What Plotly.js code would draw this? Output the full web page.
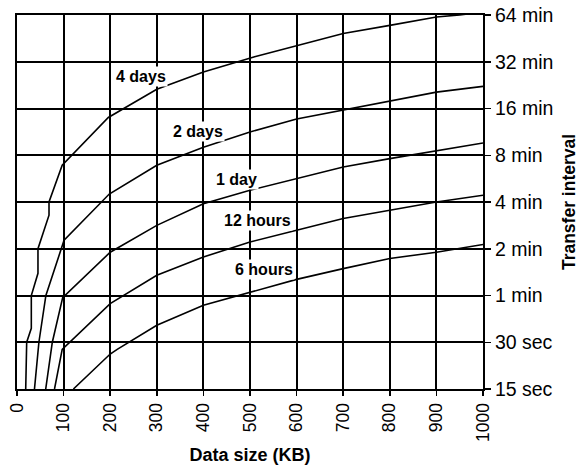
<!DOCTYPE html>
<html>
<head>
<meta charset="utf-8">
<script src="https://cdn.plot.ly/plotly-3.0.1.min.js"></script>
<style>
  html, body { margin: 0; padding: 0; background: #fff; }
  #chart { width: 582px; height: 466px; }
</style>
</head>
<body>
<div id="chart"></div>
<script>
// ---- Data (x: data size in KB, y: transfer interval in minutes) ----
const days4X  = [18.7, 20.8, 30.7, 30.7, 45, 45, 68.7, 68.7, 97, 101, 196, 300, 400, 510, 650, 700, 800, 900, 950, 1000];
const days4Y  = [0.25, 0.5, 0.615, 1.0, 1.39, 2.0, 3.29, 4.0, 6.9, 7.1, 14.0, 21.3, 27.5, 34.5, 44.4, 48.6, 54.9, 62.2, 64, 67];

const days2X  = [37.5, 47, 62, 94, 101, 198, 300, 400, 500, 600, 700, 800, 900, 1000];
const days2Y  = [0.25, 0.5, 1.0, 2.0, 2.27, 4.5, 6.9, 9.0, 11.3, 13.7, 15.7, 17.9, 20.4, 22.2];

const day1X   = [61.6, 75.8, 98, 200, 300, 400, 500, 600, 700, 800, 900, 1000];
const day1Y   = [0.25, 0.5, 0.97, 1.9, 2.83, 3.9, 4.76, 5.66, 6.72, 7.61, 8.52, 9.6];

const hours12X = [80.5, 97, 200, 300, 400, 500, 600, 700, 800, 900, 1000];
const hours12Y = [0.25, 0.45, 0.887, 1.35, 1.77, 2.21, 2.63, 3.13, 3.54, 4.0, 4.42];

const hours6X = [121, 200, 215, 300, 400, 500, 600, 700, 800, 900, 1000];
const hours6Y = [0.25, 0.42, 0.45, 0.643, 0.865, 1.05, 1.27, 1.49, 1.73, 1.9, 2.13];

const seriesNames = ['4 days', '2 days', '1 day', '12 hours', '6 hours'];

const yTickVals  = [0.25, 0.5, 1, 2, 4, 8, 16, 32, 64];
const yTickText  = ['15 sec', '30 sec', '1 min', '2 min', '4 min', '8 min', '16 min', '32 min', '64 min'];
const xTickVals  = [0, 100, 200, 300, 400, 500, 600, 700, 800, 900, 1000];

// ---- Chart ----
const FONT = 'Liberation Sans, Arial, Helvetica, sans-serif';
const xs = [days4X, days2X, day1X, hours12X, hours6X];
const ys = [days4Y, days2Y, day1Y, hours12Y, hours6Y];

const traces = seriesNames.map((name, i) => ({
  type: 'scatter',
  mode: 'lines',
  name: name,
  x: xs[i],
  y: ys[i],
  line: { color: '#000', width: 1.6 },
  hoverinfo: 'skip'
}));

// label anchor points (data units: KB, minutes)
const labelPos = [
  { x: 266, y: 25.8 },
  { x: 388, y: 11.4 },
  { x: 470, y: 5.6 },
  { x: 516, y: 3.05 },
  { x: 531, y: 1.464 }
];

const annotations = seriesNames.map((t, i) => ({
  x: labelPos[i].x,
  y: Math.log10(labelPos[i].y),
  xref: 'x', yref: 'y',
  text: t,
  showarrow: false,
  bgcolor: '#fff',
  borderpad: 1,
  font: { family: FONT, size: 16, color: '#000', weight: 'bold' }
}));

const layout = {
  width: 582,
  height: 466,
  margin: { l: 17, r: 99, t: 15, b: 77 },
  paper_bgcolor: '#fff',
  plot_bgcolor: '#fff',
  showlegend: false,
  xaxis: {
    type: 'linear',
    range: [0, 1000],
    tickvals: xTickVals,
    ticktext: xTickVals.map(String),
    tickangle: -90,
    ticks: 'outside',
    ticklen: 5,
    tickwidth: 1.5,
    tickcolor: '#000',
    showgrid: true,
    gridcolor: '#000',
    gridwidth: 2,
    zeroline: false,
    showline: true,
    mirror: true,
    linecolor: '#000',
    linewidth: 2,
    tickfont: { family: FONT, size: 17.5, color: '#000' },
    title: { text: 'Data size (KB)', standoff: 7,
             font: { family: FONT, size: 18, color: '#000', weight: 'bold' } }
  },
  yaxis: {
    type: 'log',
    side: 'right',
    range: [Math.log10(0.25), Math.log10(64)],
    tickvals: yTickVals,
    ticktext: yTickText,
    ticks: 'outside',
    ticklen: 6,
    tickwidth: 1.5,
    tickcolor: '#000',
    showgrid: true,
    gridcolor: '#000',
    gridwidth: 2,
    zeroline: false,
    showline: true,
    mirror: true,
    linecolor: '#000',
    linewidth: 2,
    tickfont: { family: FONT, size: 19.5, color: '#000' },
    title: { text: 'Transfer interval', standoff: 10,
             font: { family: FONT, size: 17.5, color: '#000', weight: 'bold' } }
  },
  annotations: annotations
};

Plotly.newPlot('chart', traces, layout, { displayModeBar: false, staticPlot: true });
</script>
</body>
</html>
